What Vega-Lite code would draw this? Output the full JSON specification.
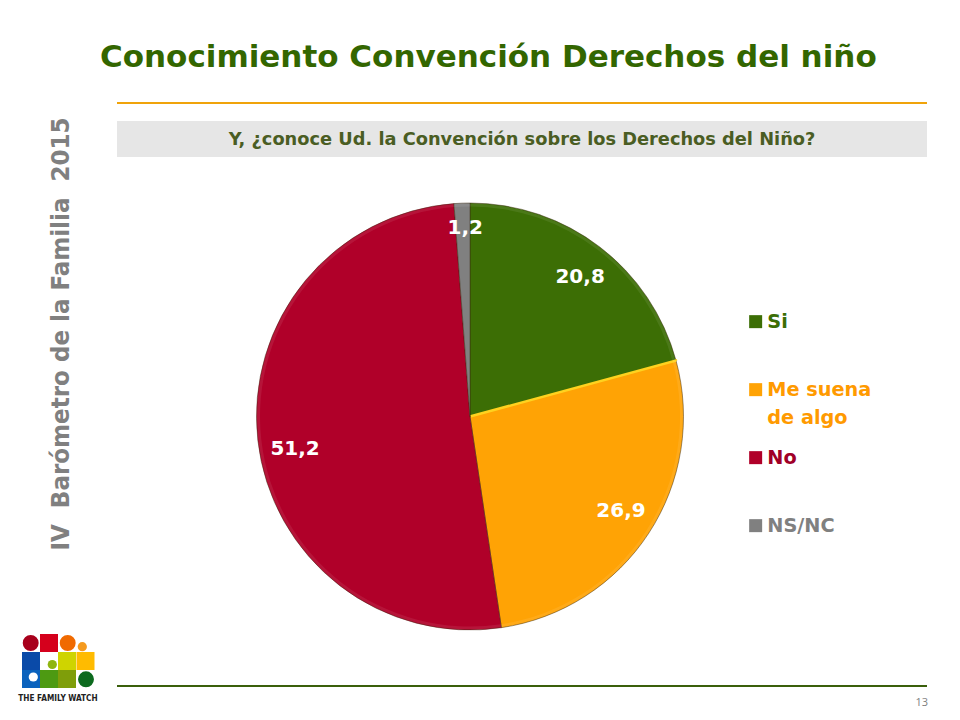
{
  "$schema": "https://vega.github.io/schema/vega-lite/v6.json",
  "background": "#ffffff",
  "padding": {"left": 5, "top": 42, "right": 34, "bottom": 0},
  "title": {
    "text": "Conocimiento Convención Derechos del niño",
    "anchor": "start",
    "dx": 95,
    "offset": 28,
    "font": "DejaVu Sans",
    "fontWeight": "bold",
    "fontSize": 31,
    "color": "#336600"
  },
  "spacing": 0,
  "hconcat": [
    {
      "bounds": "flush",
      "spacing": 0,
      "vconcat": [
        {
          "width": 111,
          "height": 464,
          "data": {"values": [{"label": "IV\u00a0\u00a0Barómetro de la Familia\u00a0\u00a02015"}]},
          "mark": {"type": "text", "angle": 270, "font": "DejaVu Sans Condensed", "fontWeight": "bold", "fontSize": 25.6, "color": "#808080", "baseline": "middle", "align": "center"},
          "encoding": {"text": {"field": "label", "type": "nominal"}}
        },
        {
          "width": 111,
          "height": 154,
          "layer": [
            {
              "data": {"values": [
                {"part": "rojo", "x": 44, "y": 77},
                {"part": "azul1", "x": 26, "y": 95},
                {"part": "lima", "x": 62, "y": 95},
                {"part": "naranja2", "x": 80.5, "y": 95},
                {"part": "azul2", "x": 26, "y": 113},
                {"part": "verde", "x": 44, "y": 113},
                {"part": "oliva", "x": 62, "y": 113}
              ]},
              "mark": {"type": "point", "shape": "square", "filled": true, "size": 324, "opacity": 1},
              "encoding": {
                "x": {"field": "x", "type": "quantitative", "scale": {"domain": [0, 111], "nice": false}, "axis": null},
                "y": {"field": "y", "type": "quantitative", "scale": {"domain": [0, 154], "nice": false, "reverse": true}, "axis": null},
                "color": {
                  "field": "part", "type": "nominal", "legend": null,
                  "scale": {
                    "domain": ["rojo", "azul1", "lima", "naranja2", "azul2", "verde", "oliva"],
                    "range": ["#d5001c", "#0a4aa8", "#cfd400", "#ffbb00", "#0a62bd", "#4d9a12", "#7f9e0a"]
                  }
                }
              }
            },
            {
              "data": {"values": [
                {"part": "granate", "x": 25.7, "y": 77, "r": "g"},
                {"part": "naranja", "x": 62.7, "y": 77, "r": "g"},
                {"part": "verdeosc", "x": 81, "y": 113.3, "r": "g"},
                {"part": "naranja3", "x": 77.3, "y": 80.7, "r": "p"},
                {"part": "lima2", "x": 47.3, "y": 98.5, "r": "p"},
                {"part": "blanco", "x": 28.3, "y": 111, "r": "p"}
              ]},
              "mark": {"type": "circle", "opacity": 1},
              "encoding": {
                "x": {"field": "x", "type": "quantitative", "axis": null},
                "y": {"field": "y", "type": "quantitative", "axis": null},
                "size": {"field": "r", "type": "nominal", "legend": null, "scale": {"domain": ["g", "p"], "range": [254, 85]}},
                "color": {
                  "field": "part", "type": "nominal", "legend": null,
                  "scale": {
                    "domain": ["granate", "naranja", "verdeosc", "naranja3", "lima2", "blanco"],
                    "range": ["#a8001c", "#f06a00", "#0c6a1e", "#f59a1e", "#8fb510", "#ffffff"]
                  }
                }
              }
            },
            {
              "data": {"values": [{"label": "THE FAMILY WATCH", "x": 53, "y": 133}]},
              "mark": {"type": "text", "font": "DejaVu Sans Condensed", "fontWeight": "bold", "fontSize": 8.2, "color": "#222222"},
              "encoding": {
                "x": {"field": "x", "type": "quantitative", "axis": null},
                "y": {"field": "y", "type": "quantitative", "axis": null},
                "text": {"field": "label", "type": "nominal"}
              }
            }
          ],
          "resolve": {"scale": {"color": "independent"}}
        }
      ]
    },
    {
      "bounds": "flush",
      "spacing": 0,
      "vconcat": [
        {
          "width": 810,
          "height": 19,
          "data": {"values": [{"label": "linea"}]},
          "mark": {"type": "rule", "color": "#f0a30a", "strokeWidth": 2},
          "encoding": {"y": {"value": 1}}
        },
        {
          "width": 810,
          "height": 36,
          "view": {"fill": "#e6e6e6"},
          "data": {"values": [{"label": "Y, ¿conoce Ud. la Convención sobre los Derechos del Niño?"}]},
          "mark": {"type": "text", "font": "DejaVu Sans", "fontWeight": "bold", "fontSize": 17.8, "dy": 1, "color": "#4a5d23"},
          "encoding": {"text": {"field": "label", "type": "nominal"}}
        },
        {
          "width": 706,
          "height": 519,
          "data": {"values": [
            {"respuesta": "Si", "valor": 20.8, "etiqueta": "20,8", "i": 1},
            {"respuesta": "Me suena de algo", "valor": 26.9, "etiqueta": "26,9", "i": 2},
            {"respuesta": "No", "valor": 51.2, "etiqueta": "51,2", "i": 3},
            {"respuesta": "NS/NC", "valor": 1.2, "etiqueta": "1,2", "i": 4}
          ]},
          "encoding": {
            "theta": {"field": "valor", "type": "quantitative", "stack": true, "scale": {"domain": [0, 100.1]}},
            "order": {"field": "i", "type": "quantitative"}
          },
          "layer": [
            {
              "mark": {"type": "arc", "outerRadius": 213.5, "stroke": "#3a2a10", "strokeWidth": 0.8, "strokeOpacity": 0.6},
              "encoding": {
                "color": {
                  "field": "respuesta", "type": "nominal",
                  "sort": ["Si", "Me suena de algo", "No", "NS/NC"],
                  "scale": {
                    "domain": ["Si", "Me suena de algo", "No", "NS/NC"],
                    "range": ["#3c6e05", "#ffa305", "#b00029", "#808080"]
                  },
                  "legend": {
                    "orient": "none",
                    "legendX": 741,
                    "legendY": 210,
                    "title": null,
                    "symbolType": "square",
                    "symbolSize": 169,
                    "symbolStrokeWidth": 0,
                    "gridAlign": "all",
                    "rowPadding": 20,
                    "labelFont": "DejaVu Sans",
                    "labelFontWeight": "bold",
                    "labelFontSize": 19.3,
                    "labelOffset": 2,
                    "labelLimit": 200,
                    "labelExpr": "datum.label == 'Me suena de algo' ? ['Me suena', 'de algo'] : datum.label",
                    "labelColor": {"expr": "datum.value == 'Si' ? '#3c6e05' : datum.value == 'No' ? '#a00028' : datum.value == 'NS/NC' ? '#808080' : '#ff9a00'"},
                    "encoding": {"labels": {"lineHeight": {"value": 28}}}
                  }
                }
              }
            },
            {
              "mark": {"type": "arc", "outerRadius": 213.5, "strokeWidth": 2.5, "strokeDash": [0, 360, 213, 9999], "fillOpacity": 0},
              "encoding": {
                "stroke": {"condition": {"test": "datum.i == 2", "value": "#ffd21f"}, "value": "transparent"}
              }
            },
            {
              "mark": {"type": "arc", "innerRadius": 210, "outerRadius": 213, "color": "#ffffff", "opacity": 0.08}
            },
            {
              "mark": {
                "type": "text",
                "font": "DejaVu Sans",
                "fontWeight": "bold",
                "fontSize": 20,
                "color": "#ffffff",
                "radius": 178,
                "dx": 2,
                "dy": {"expr": "datum.i == 3 ? 13 : datum.i == 4 ? -11 : datum.i == 2 ? -3 : 2"}
              },
              "encoding": {
                "text": {"field": "etiqueta", "type": "nominal"}
              }
            }
          ]
        },
        {
          "width": 810,
          "height": 44,
          "data": {"values": [{"label": "13"}]},
          "layer": [
            {
              "mark": {"type": "rule", "color": "#3a5f0b", "strokeWidth": 2},
              "encoding": {"y": {"value": 10}}
            },
            {
              "mark": {"type": "text", "align": "right", "font": "Open Sans", "fontSize": 11, "color": "#808080"},
              "encoding": {
                "x": {"value": 811},
                "y": {"value": 27},
                "text": {"field": "label", "type": "nominal"}
              }
            }
          ]
        }
      ]
    }
  ],
  "config": {"view": {"stroke": null}}
}
